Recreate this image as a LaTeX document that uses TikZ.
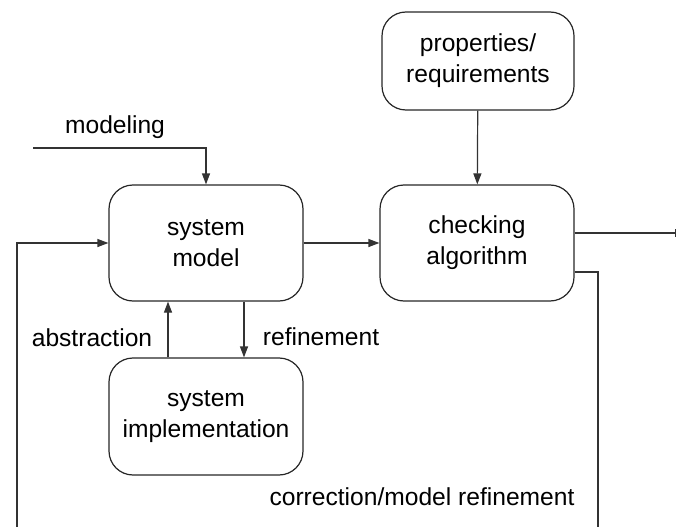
\documentclass[tikz,border=0pt]{standalone}
\usepackage{fontspec}
\setmainfont{Liberation Sans}
\usetikzlibrary{arrows.meta}

\begin{document}
\begin{tikzpicture}[x=1pt, y=-1pt, >={Triangle[length=11pt,width=8pt]},
		line width=1.2pt, black!80,
		blk/.style={draw=black!85, rounded corners=24pt, align=center, text=black,
			font=\fontsize{24.6}{31}\selectfont, minimum width=194pt, minimum height=116pt, inner sep=0pt},
		lbl/.style={text=black, font=\fontsize{24.6}{31}\selectfont, inner sep=0pt}]
				\useasboundingbox (0,0) rectangle (678,527);
				\node[blk, minimum width=192pt, minimum height=98pt] (props) at (478,61) {properties/\\requirements};
				\node[blk] (model) at (206,243) {system\\model};
				\node[blk] (check) at (477,243) {checking\\algorithm};
				\node[blk, minimum height=117pt] (impl) at (206,416.5) {system\\implementation};
				\coordinate (modin) at (33,148);
				\coordinate (out) at (676,233);
				\coordinate (fbr) at (598,545);
				\coordinate (fbl) at (17,545);
				\draw[->] (modin) -| (model.north);
				\draw[->] (props) -- (check);
				\draw[->] (model) -- (check);
				\draw[->] ([xshift=-38pt]impl.north) -- ([xshift=-38pt]model.south);
				\draw[->] ([xshift=38pt]model.south) -- ([xshift=38pt]impl.north);
				\draw[-|] (check.east |- out) -- (out);
				\draw[->] ([yshift=-29pt]check.east) -| (fbr) -- (fbl) |- (model.west);
				\node[lbl] (modlbl) at (115,127) {modeling};
				\node[lbl] (abslbl) at (92,338) {abstraction};
				\node[lbl] (reflbl) at (321,337) {refinement};
				\node[lbl] (corlbl) at (422,497) {correction/model refinement};
			\end{tikzpicture}
\end{document}
